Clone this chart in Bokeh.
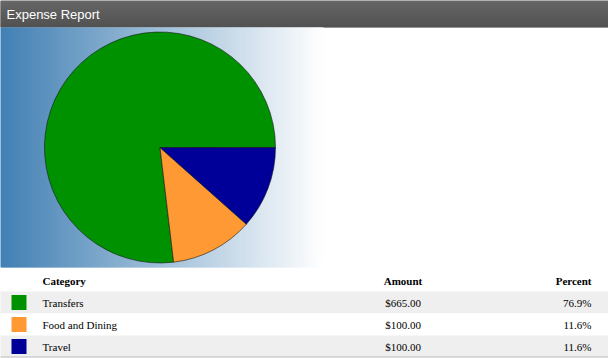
import numpy as np
from bokeh.plotting import figure
from bokeh.models import Range1d, ColumnDataSource
from bokeh.core.properties import value
from bokeh.embed import file_html
from bokeh.resources import INLINE

# ---- data ----
title = "Expense Report"
categories = ["Transfers", "Food and Dining", "Travel"]
amounts = [665.00, 100.00, 100.00]
colors = ["#009100", "#FF9933", "#000099"]
headers = ["Category", "Amount", "Percent"]

W, H = 608, 358
p = figure(width=W, height=H, output_backend="svg", toolbar_location=None,
           x_range=Range1d(0, W), y_range=Range1d(0, H), min_border=0,
           x_axis_location=None, y_axis_location=None)
p.grid.visible = False
p.outline_line_color = None
p.background_fill_color = "white"
p.border_fill_color = "white"

def Y(top_px):
    return H - top_px

# ---- title bar (vertical gradient) ----
n_bar = 27
tb = np.arange(n_bar)
c0 = np.array([0x67, 0x67, 0x67]); c1 = np.array([0x52, 0x52, 0x52])
bar_cols = ["#%02x%02x%02x" % tuple((c0 + (c1 - c0) * (i / (n_bar - 1))).astype(int)) for i in tb]
p.quad(left=-3, right=W + 3, top=[Y(i) + (3 if i == 0 else 0) for i in tb],
       bottom=[Y(i + 1) - (0.8 if i < n_bar - 1 else 0) for i in tb],
       fill_color=bar_cols, line_color=None)
p.text(x=[6], y=[Y(13.5)], text=[title], text_color="white", text_font=value("Liberation Sans"),
       text_font_size="13px", text_baseline="middle", text_align="left")

# ---- chart area gradient background ----
gx0, gx1, gy0, gy1 = 0, 322, 27, 267
ns = 161
edges = np.linspace(gx0, gx1, ns + 1)
cl = np.array([66, 128, 180]); cr = np.array([255, 255, 255])
gcols = []
for i in range(ns):
    t = (i + 0.5) / ns
    c = cl + (cr - cl) * t
    gcols.append("#%02x%02x%02x" % tuple(np.clip(c, 0, 255).astype(int)))
lefts = edges[:-1].copy(); lefts[0] = -3
p.quad(left=lefts, right=edges[1:] + 1.2, top=Y(gy0), bottom=Y(gy1),
       fill_color=gcols, line_color=None)

# ---- pie ----
vals = np.array(amounts)
frac = vals / vals.sum()
ang = np.concatenate([[0], np.cumsum(frac) * 2 * np.pi])
pie = ColumnDataSource(dict(start=ang[:-1], end=ang[1:], color=colors))
p.wedge(x=159.5, y=Y(147), radius=115.5, start_angle="start", end_angle="end",
        fill_color="color", line_color="#1a1a1a", line_width=0.6, source=pie)

# ---- table ----
row_h = 22
hdr_top = 269
p.text(x=[42], y=[Y(hdr_top + row_h / 2)], text=[headers[0]], text_font=value("Liberation Serif"),
       text_font_style="bold", text_font_size="11px", text_baseline="middle", text_align="left",
       text_color="black")
p.text(x=[402.5], y=[Y(hdr_top + row_h / 2)], text=[headers[1]], text_font=value("Liberation Serif"),
       text_font_style="bold", text_font_size="11px", text_baseline="middle", text_align="center",
       text_color="black")
p.text(x=[591], y=[Y(hdr_top + row_h / 2)], text=[headers[2]], text_font=value("Liberation Serif"),
       text_font_style="bold", text_font_size="11px", text_baseline="middle", text_align="right",
       text_color="black")

n = len(categories)
row_tops = [hdr_top + row_h * (i + 1) for i in range(n)]
row_cols = ["#efefef" if i % 2 == 0 else "#ffffff" for i in range(n)]
p.quad(left=-3, right=W + 3, top=[Y(t) for t in row_tops], bottom=[Y(t + row_h) for t in row_tops],
       fill_color=row_cols, line_color=None)
p.segment(x0=-3, x1=W + 3, y0=Y(row_tops[-1] + row_h) + 0.5, y1=Y(row_tops[-1] + row_h) + 0.5,
          line_color="#bdbdbd", line_width=1.2)
cy = [Y(t + row_h / 2) for t in row_tops]
p.rect(x=18.5, y=cy, width=15, height=15, fill_color=colors, line_color=None)
p.text(x=42, y=cy, text=categories, text_font=value("Liberation Serif"), text_font_size="11px",
       text_baseline="middle", text_align="left", text_color="black")
p.text(x=402.5, y=cy, text=["$%.2f" % a for a in amounts], text_font=value("Liberation Serif"),
       text_font_size="11px", text_baseline="middle", text_align="center", text_color="black")
p.text(x=591, y=cy, text=["%.1f%%" % (f * 100) for f in frac], text_font=value("Liberation Serif"),
       text_font_size="11px", text_baseline="middle", text_align="right", text_color="black")

open("out.html", "w").write(file_html(p, INLINE))
